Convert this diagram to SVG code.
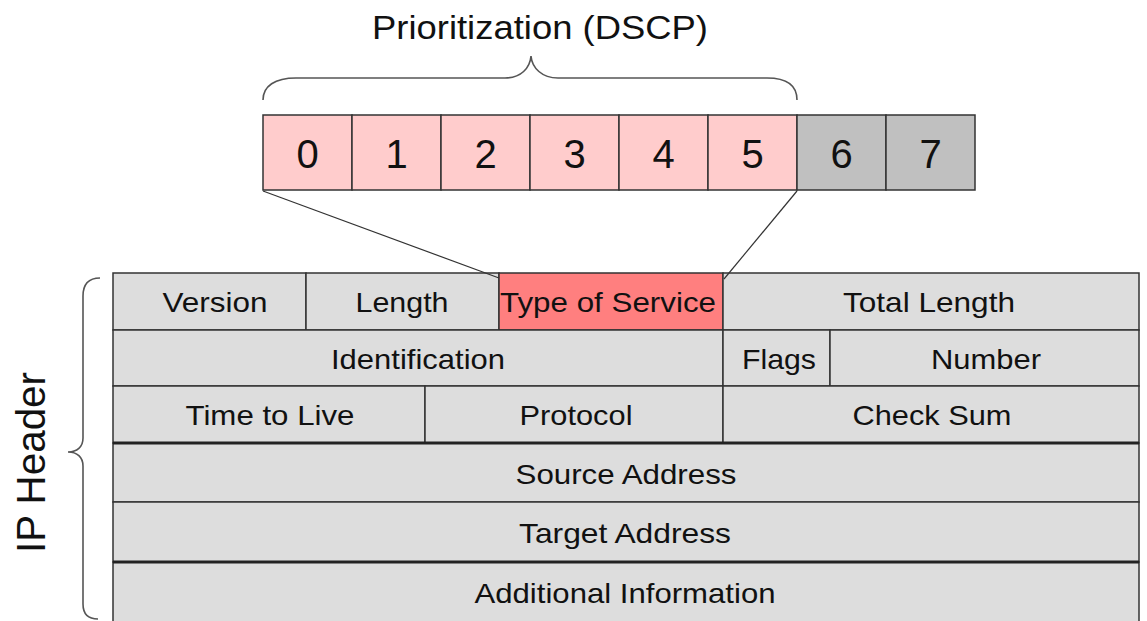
<svg xmlns="http://www.w3.org/2000/svg" width="1147" height="621" viewBox="0 0 1147 621">
<style>
.cell{fill:#dddddd;stroke:#333333;stroke-width:1.5}
.tos{fill:#ff7f7f;stroke:#333333;stroke-width:1.5}
.bitp{fill:#ffcccc;stroke:#333333;stroke-width:1.5}
.bitg{fill:#c0c0c0;stroke:#333333;stroke-width:1.5}
.t{font-family:"Liberation Sans",Arial,sans-serif;font-size:28px;fill:#111111;text-anchor:middle}
.d{font-family:"Liberation Sans",Arial,sans-serif;font-size:40px;fill:#111111;text-anchor:middle}
.brace{fill:none;stroke:#555555;stroke-width:1.6}
.conn{fill:none;stroke:#333333;stroke-width:1.2}
.thick{stroke:#222222;stroke-width:3}
</style>
<rect width="1147" height="621" fill="#ffffff"/>

<g id="title">
<text x="540" y="39" font-family="Liberation Sans, Arial, sans-serif" font-size="33" fill="#111111" text-anchor="middle" textLength="336" lengthAdjust="spacingAndGlyphs">Prioritization (DSCP)</text>
<path class="brace" d="M263,100 C263,86 275,78 296,78 L505,78 C521,78 530,68 531,56 C532,68 542,78 558,78 L767,78 C787,78 797,86 797,100"/>
</g>

<g id="bits">
<g id="bit0"><rect class="bitp" x="263" y="115" width="89" height="75"/><text class="d" x="307.5" y="168">0</text></g>
<g id="bit1"><rect class="bitp" x="352" y="115" width="89" height="75"/><text class="d" x="396.5" y="168">1</text></g>
<g id="bit2"><rect class="bitp" x="441" y="115" width="89" height="75"/><text class="d" x="485.5" y="168">2</text></g>
<g id="bit3"><rect class="bitp" x="530" y="115" width="89" height="75"/><text class="d" x="574.5" y="168">3</text></g>
<g id="bit4"><rect class="bitp" x="619" y="115" width="89" height="75"/><text class="d" x="663.5" y="168">4</text></g>
<g id="bit5"><rect class="bitp" x="708" y="115" width="89" height="75"/><text class="d" x="752.5" y="168">5</text></g>
<g id="bit6"><rect class="bitg" x="797" y="115" width="89" height="75"/><text class="d" x="841.5" y="168">6</text></g>
<g id="bit7"><rect class="bitg" x="886" y="115" width="89" height="75"/><text class="d" x="930.5" y="168">7</text></g>
</g>

<g id="header">
<g id="version"><rect class="cell" x="113" y="273" width="193" height="57"/><text class="t" x="215" y="312" textLength="105" lengthAdjust="spacingAndGlyphs">Version</text></g>
<g id="length"><rect class="cell" x="306" y="273" width="193" height="57"/><text class="t" x="402" y="312" textLength="93" lengthAdjust="spacingAndGlyphs">Length</text></g>
<g id="tos"><rect class="tos" x="499" y="273" width="224" height="57"/><text class="t" x="608" y="312" textLength="216" lengthAdjust="spacingAndGlyphs">Type of Service</text></g>
<g id="totallength"><rect class="cell" x="723" y="273" width="416" height="57"/><text class="t" x="929" y="312" textLength="172" lengthAdjust="spacingAndGlyphs">Total Length</text></g>

<g id="identification"><rect class="cell" x="113" y="330" width="610" height="56"/><text class="t" x="418" y="369" textLength="174" lengthAdjust="spacingAndGlyphs">Identification</text></g>
<g id="flags"><rect class="cell" x="723" y="330" width="107" height="56"/><text class="t" x="779" y="369" textLength="74" lengthAdjust="spacingAndGlyphs">Flags</text></g>
<g id="number"><rect class="cell" x="830" y="330" width="309" height="56"/><text class="t" x="986" y="369" textLength="110" lengthAdjust="spacingAndGlyphs">Number</text></g>

<g id="ttl"><rect class="cell" x="113" y="386" width="312" height="57"/><text class="t" x="270" y="425" textLength="169" lengthAdjust="spacingAndGlyphs">Time to Live</text></g>
<g id="protocol"><rect class="cell" x="425" y="386" width="298" height="57"/><text class="t" x="576" y="425" textLength="113" lengthAdjust="spacingAndGlyphs">Protocol</text></g>
<g id="checksum"><rect class="cell" x="723" y="386" width="416" height="57"/><text class="t" x="932" y="425" textLength="159" lengthAdjust="spacingAndGlyphs">Check Sum</text></g>

<g id="source"><rect class="cell" x="113" y="443" width="1026" height="59"/><text class="t" x="626" y="484" textLength="221" lengthAdjust="spacingAndGlyphs">Source Address</text></g>
<g id="target"><rect class="cell" x="113" y="502" width="1026" height="60"/><text class="t" x="625" y="543" textLength="212" lengthAdjust="spacingAndGlyphs">Target Address</text></g>
<g id="additional"><rect class="cell" x="113" y="562" width="1026" height="70"/><text class="t" x="625" y="603" textLength="301" lengthAdjust="spacingAndGlyphs">Additional Information</text></g>

<line class="thick" x1="113" y1="443" x2="1139" y2="443"/>
<line class="thick" x1="113" y1="562" x2="1139" y2="562"/>
</g>

<g id="iplabel">
<text x="45" y="462.5" transform="rotate(-90 45 462.5)" font-family="Liberation Sans, Arial, sans-serif" font-size="41" fill="#111111" text-anchor="middle" textLength="181" lengthAdjust="spacingAndGlyphs">IP Header</text>
<path class="brace" d="M100,278 C88,278 83,284 83,296 L83,438 C83,447 77,452 68,452 C77,452 83,457 83,466 L83,604 C83,614 88,619 98,619"/>
</g>

<g id="connectors">
<line class="conn" x1="263" y1="191" x2="499" y2="278"/>
<line class="conn" x1="797" y1="191" x2="724" y2="279"/>
</g>
</svg>
